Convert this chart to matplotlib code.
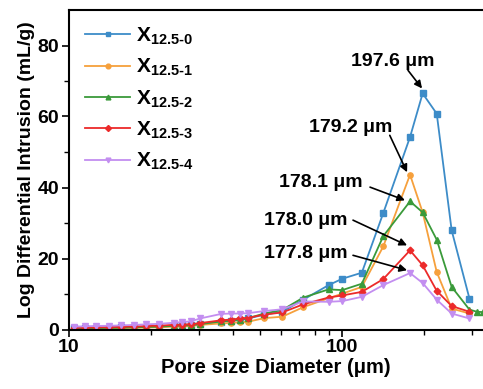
import matplotlib
matplotlib.use("Agg")
import matplotlib.pyplot as plt
from matplotlib.ticker import FixedLocator, NullFormatter

plt.rcParams['font.family'] = ['Liberation Sans', 'DejaVu Sans']
plt.rcParams['font.weight'] = 'bold'
plt.rcParams['mathtext.fontset'] = 'custom'
plt.rcParams['mathtext.bf'] = 'Liberation Sans:bold'
plt.rcParams['mathtext.rm'] = 'Liberation Sans:bold'

# pore diameters (µm)
diam = [10.4, 11.4, 12.6, 14.0, 15.5, 17.3, 19.2, 21.4, 24.2, 26.0, 28.0, 30.2,
        36.2, 39.3, 42.3, 45.4, 52.0, 60.5, 72.3, 89.5, 100.5, 118.5, 142, 178,
        198, 223, 253, 294]
diam_x2 = diam + [313, 330]

x0 = [0.4, 0.45, 0.5, 0.55, 0.6, 0.7, 0.8, 0.9, 1.1, 1.2, 1.3, 1.6,
      2.2, 2.4, 2.7, 3.1, 4.2, 5.0, 8.4, 12.5, 14.3, 16.0, 32.8, 54.2,
      66.5, 60.8, 27.9, 8.7]
x1 = [0.2, 0.25, 0.3, 0.35, 0.4, 0.5, 0.55, 0.65, 0.8, 0.9, 1.0, 1.3,
      1.7, 1.9, 2.0, 2.2, 3.2, 3.6, 6.3, 8.8, 10.1, 12.0, 23.4, 43.6,
      33.0, 16.2, 5.9, 4.5]
x2 = [0.3, 0.35, 0.4, 0.45, 0.5, 0.6, 0.7, 0.8, 1.0, 1.1, 1.2, 1.5,
      2.3, 2.5, 2.8, 3.2, 4.5, 5.5, 9.0, 11.3, 11.1, 12.9, 26.3, 36.1,
      33.0, 25.3, 12.0, 5.6, 5.0, 4.9]
x3 = [0.5, 0.55, 0.6, 0.65, 0.75, 0.85, 0.95, 1.1, 1.3, 1.4, 1.5, 1.8,
      2.6, 2.8, 3.1, 3.3, 4.2, 4.8, 7.1, 9.0, 9.6, 10.6, 14.2, 22.3,
      18.1, 10.9, 6.6, 5.0]
x4 = [0.8, 0.9, 1.0, 1.05, 1.15, 1.3, 1.45, 1.6, 1.9, 2.1, 2.3, 3.1,
      4.4, 4.5, 4.5, 4.6, 5.2, 5.7, 7.9, 7.8, 8.0, 9.2, 12.5, 15.9,
      13.1, 8.4, 4.5, 3.1]

labels = [r'$\mathbf{X_{12.5‐0}}$', r'$\mathbf{X_{12.5‐1}}$', r'$\mathbf{X_{12.5‐2}}$',
          r'$\mathbf{X_{12.5‐3}}$', r'$\mathbf{X_{12.5‐4}}$']
colors = ['#3d8cc8', '#f6a03c', '#3a9a3a', '#ec2a2a', '#c38ef0']
markers = ['s', 'o', '^', 'D', 'v']

peak_labels = ['197.6 μm', '179.2 μm', '178.1 μm', '178.0 μm', '177.8 μm']
peak_text_pos = [(154, 75.5), (108, 56.9), (84, 41.4), (74, 30.8), (74, 21.5)]
arrow_start = [(175, 73.0), (150, 54.7), (127, 40.1), (110, 30.8), (110, 20.9)]
arrow_end = [(197, 67.9), (173.6, 44.3), (170.6, 36.4), (173.6, 23.7), (173.6, 16.7)]

fig = plt.figure(figsize=(4.83, 3.89), dpi=100)
ax = fig.add_axes([69 / 483, 59.5 / 389, 414 / 483, 319.5 / 389])

series = [(diam, x0), (diam, x1), (diam_x2, x2), (diam, x3), (diam, x4)]
for (xs, ys), lab, c, m in zip(series, labels, colors, markers):
    ms = 3.8 if m != 'D' else 3.4
    ax.plot(xs, ys, color=c, marker=m, markersize=ms, linewidth=1.3, label=lab)

ax.set_xscale('log')
ax.set_xlim(10, 329.6)
ax.set_ylim(0, 90)

ax.xaxis.set_major_locator(FixedLocator([10, 100]))
ax.xaxis.set_minor_locator(FixedLocator([20, 30, 40, 50, 60, 70, 80, 90, 200, 300]))
ax.xaxis.set_minor_formatter(NullFormatter())
ax.set_xticklabels(['10', '100'])
ax.yaxis.set_major_locator(FixedLocator([0, 20, 40, 60, 80]))
ax.yaxis.set_minor_locator(FixedLocator([10, 30, 50, 70]))

ax.tick_params(which='major', direction='out', length=5, width=1.2, labelsize=14, pad=2)
ax.tick_params(which='minor', direction='out', length=3.5, width=1.0)
ax.tick_params(top=False, right=False)
for lab in ax.get_xticklabels() + ax.get_yticklabels():
    lab.set_fontweight('bold')

for s in ['left', 'bottom', 'top']:
    ax.spines[s].set_linewidth(1.5)
ax.spines['right'].set_visible(False)

ax.set_xlabel('Pore size Diameter (μm)', fontsize=14.5, fontweight='bold', labelpad=1)
ax.set_ylabel('Log Differential Intrusion (mL/g)', fontsize=14, fontweight='bold', labelpad=2)

for txt, tp, st, en in zip(peak_labels, peak_text_pos, arrow_start, arrow_end):
    ax.text(tp[0], tp[1], txt, fontsize=14, fontweight='bold', ha='center', va='center')
    ax.annotate('', xy=en, xytext=st,
                arrowprops=dict(arrowstyle='-|>', color='black', lw=1.2,
                                mutation_scale=11, shrinkA=0, shrinkB=0))

leg = ax.legend(loc='upper left', bbox_to_anchor=(0.0, 1.0), frameon=False,
                fontsize=15, handlelength=2.2, handletextpad=0.25,
                labelspacing=0.48, borderaxespad=0.35, markerscale=0.9)

fig.savefig('out.png', dpi=100)
